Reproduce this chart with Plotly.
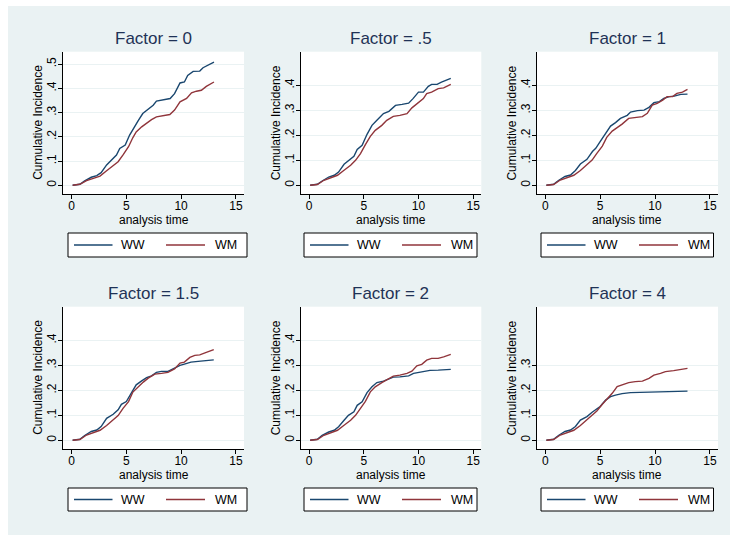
import plotly.graph_objects as go

# ---------------------------------------------------------------- data
factor_labels = ["0", ".5", "1", "1.5", "2", "4"]
series_names = ["WW", "WM"]

x_tickvals = [0, 5, 10, 15]
x_ticktext = ["0", "5", "10", "15"]
y_tickvals_f0 = [0, 0.1, 0.2, 0.3, 0.4, 0.5]
y_tickvals_mid = [0, 0.1, 0.2, 0.3, 0.4]
y_tickvals_f4 = [0, 0.1, 0.2, 0.3]
y_tick_names = {0: "0", 0.1: ".1", 0.2: ".2", 0.3: ".3", 0.4: ".4", 0.5: ".5"}

# Factor = 0
time_ww_f0 = [0.1, 0.76, 1.2, 1.8, 2.3, 2.7, 3.2, 3.65, 4.1, 4.4, 4.9, 5.3, 5.8, 6.1, 6.5,
              7.0, 7.45, 7.75, 8.4, 9.0, 9.4, 9.9, 10.3, 10.6, 11.1, 11.7, 12.0, 12.5, 13.0]
ci_ww_f0 = [0, .004, .018, .033, .040, .052, .084, .104, .125, .152, .166, .207, .248, .268, .296,
            .316, .330, .347, .353, .358, .378, .422, .426, .453, .470, .471, .485, .495, .508]
time_wm_f0 = [0.1, 0.76, 1.37, 2.0, 2.6, 3.2, 3.8, 4.25, 4.7, 5.2, 5.6, 5.9, 6.4, 6.85, 7.3,
              7.75, 8.35, 8.97, 9.4, 9.9, 10.5, 10.95, 11.4, 11.85, 12.3, 13.0]
ci_wm_f0 = [0, .004, .019, .029, .038, .060, .079, .097, .125, .159, .197, .220, .241, .258, .271,
            .282, .288, .292, .310, .344, .358, .381, .388, .392, .408, .426]

# Factor = .5
time_ww_f05 = [0.1, 0.76, 1.2, 1.8, 2.3, 2.7, 3.2, 3.6, 4.1, 4.4, 4.85, 5.3, 5.75, 6.2, 6.8,
               7.3, 7.9, 8.5, 9.1, 9.5, 10.0, 10.45, 10.9, 11.2, 11.7, 12.1, 12.6, 12.95]
ci_ww_f05 = [0, .004, .017, .033, .040, .053, .084, .100, .116, .143, .160, .204, .240, .260, .287,
             .296, .320, .324, .329, .347, .373, .373, .396, .404, .404, .413, .420, .428]
time_wm_f05 = [0.1, 0.76, 1.36, 2.0, 2.6, 3.2, 3.8, 4.25, 4.7, 5.15, 5.6, 6.05, 6.65, 7.1, 7.7,
               8.3, 8.95, 9.4, 10.0, 10.45, 10.75, 11.2, 11.8, 12.3, 12.95]
ci_wm_f05 = [0, .003, .020, .031, .040, .060, .080, .100, .127, .163, .196, .220, .240, .260, .276,
             .280, .287, .310, .333, .347, .367, .373, .387, .390, .404]

# Factor = 1
time_ww_f1 = [0.1, 0.76, 1.2, 1.8, 2.3, 2.75, 3.2, 3.8, 4.3, 4.6, 5.0, 5.5, 5.95, 6.4, 6.85,
              7.47, 7.77, 8.4, 9.0, 9.45, 9.9, 10.4, 10.8, 11.3, 11.75, 12.35, 12.96]
ci_ww_f1 = [0, .004, .019, .035, .041, .059, .085, .104, .135, .148, .175, .208, .237, .251, .268,
            .280, .293, .299, .301, .312, .331, .335, .348, .355, .357, .364, .365]
time_wm_f1 = [0.1, 0.76, 1.37, 2.0, 2.6, 3.2, 3.8, 4.27, 4.7, 5.2, 5.6, 6.1, 6.55, 7.0, 7.6,
              8.2, 8.85, 9.3, 9.75, 10.2, 10.7, 11.1, 11.6, 12.0, 12.5, 12.96]
ci_wm_f1 = [0, .003, .021, .031, .040, .059, .081, .101, .128, .157, .192, .217, .231, .245, .268,
            .271, .275, .288, .321, .328, .341, .355, .355, .368, .373, .384]

# Factor = 1.5
time_ww_f15 = [0.1, 0.76, 1.2, 1.8, 2.3, 2.7, 3.2, 3.8, 4.25, 4.55, 5.0, 5.5, 5.9, 6.4, 6.85,
               7.3, 7.75, 8.2, 8.8, 9.4, 9.9, 10.3, 10.9, 11.55, 12.3, 12.98]
ci_ww_f15 = [0, .004, .019, .035, .041, .055, .088, .104, .122, .144, .155, .195, .222, .238, .251,
             .258, .272, .276, .276, .289, .300, .305, .313, .316, .320, .322]
time_wm_f15 = [0.1, 0.76, 1.37, 2.0, 2.6, 3.2, 3.8, 4.25, 4.7, 5.2, 5.6, 6.1, 6.55, 7.0, 7.6,
               8.2, 8.8, 9.4, 9.9, 10.3, 10.8, 11.25, 11.7, 12.3, 12.98]
ci_wm_f15 = [0, .003, .021, .031, .040, .059, .082, .099, .128, .155, .193, .215, .233, .249, .265,
             .268, .272, .286, .309, .313, .332, .340, .342, .352, .363]

# Factor = 2
time_ww_f2 = [0.1, 0.76, 1.2, 1.8, 2.3, 2.7, 3.2, 3.6, 4.1, 4.4, 4.85, 5.3, 5.75, 6.2, 6.8,
              7.3, 7.7, 8.3, 9.1, 9.55, 10.0, 10.45, 11.05, 11.8, 12.4, 12.95]
ci_ww_f2 = [0, .004, .020, .033, .040, .054, .080, .100, .114, .140, .154, .191, .214, .231, .237,
            .245, .253, .254, .258, .268, .272, .274, .280, .281, .284, .284]
time_wm_f2 = [0.1, 0.76, 1.36, 2.0, 2.6, 3.2, 3.8, 4.25, 4.7, 5.15, 5.6, 6.05, 6.65, 7.1, 7.7,
              8.3, 8.95, 9.4, 9.85, 10.3, 10.75, 11.2, 11.8, 12.3, 12.95]
ci_wm_f2 = [0, .003, .020, .031, .040, .060, .080, .100, .127, .156, .194, .214, .231, .241, .257,
            .261, .268, .277, .298, .304, .321, .328, .328, .334, .344]

# Factor = 4
time_ww_f4 = [0.1, 0.76, 1.2, 1.8, 2.3, 2.75, 3.2, 3.8, 4.27, 4.7, 5.0, 5.5, 5.95, 6.4, 7.0,
              7.77, 8.7, 9.6, 10.5, 11.7, 12.96]
ci_ww_f4 = [0, .004, .019, .035, .041, .055, .081, .095, .112, .125, .135, .161, .175, .181, .187,
            .191, .192, .193, .196, .197, .197]
time_wm_f4 = [0.1, 0.76, 1.37, 2.0, 2.6, 3.2, 3.8, 4.27, 4.7, 5.2, 5.65, 6.1, 6.55, 7.0, 7.6,
              8.2, 8.85, 9.45, 9.9, 10.5, 10.95, 11.7, 12.35, 12.96]
ci_wm_f4 = [0, .003, .021, .031, .040, .059, .081, .099, .117, .144, .165, .188, .215, .221, .231,
            .235, .237, .248, .261, .268, .275, .279, .284, .288]

panel_series = [
    ((time_ww_f0, ci_ww_f0), (time_wm_f0, ci_wm_f0)),
    ((time_ww_f05, ci_ww_f05), (time_wm_f05, ci_wm_f05)),
    ((time_ww_f1, ci_ww_f1), (time_wm_f1, ci_wm_f1)),
    ((time_ww_f15, ci_ww_f15), (time_wm_f15, ci_wm_f15)),
    ((time_ww_f2, ci_ww_f2), (time_wm_f2, ci_wm_f2)),
    ((time_ww_f4, ci_ww_f4), (time_wm_f4, ci_wm_f4)),
]
panel_yticks = [y_tickvals_f0, y_tickvals_mid, y_tickvals_mid,
                y_tickvals_mid, y_tickvals_mid, y_tickvals_f4]

# ---------------------------------------------------------------- style
W, H = 730, 535
BG = "#EAF2F3"
NAVY = "#1A476F"
MAROON = "#90353B"
TITLE_COLOR = "#1F3256"
FONT = "Liberation Sans, Arial, Helvetica, sans-serif"
line_colors = [NAVY, MAROON]

# plot-area boxes in pixels (left, right) per column and (top, bottom) per row
col_px = [(63.0, 244.0), (300.5, 481.3), (536.7, 718.0)]
row_px = [(51.7, 194.0), (306.7, 449.0)]
legend_cols = [(68.0, 247.0), (304.0, 477.0), (541.0, 713.5)]
legend_rows = [(233.0, 257.0), (488.0, 511.0)]

x_range = [-0.78, 15.74]
y_range_f0 = [-0.036, 0.551]
y_range_other = [-0.035, 0.535]


def px_x(px):
    return px / W


def px_y(py):
    return 1 - py / H


fig = go.Figure()
shapes = []
annotations = []

# white strip along the top and left border of the graph region
shapes.append(dict(type="rect", xref="paper", yref="paper", x0=0, x1=px_x(8), y0=0, y1=1,
                   fillcolor="white", line_width=0, layer="below"))
shapes.append(dict(type="rect", xref="paper", yref="paper", x0=0, x1=1, y0=px_y(6), y1=1,
                   fillcolor="white", line_width=0, layer="below"))

for i, label in enumerate(factor_labels):
    r, c = divmod(i, 3)
    n = i + 1
    xa = "xaxis" if n == 1 else f"xaxis{n}"
    ya = "yaxis" if n == 1 else f"yaxis{n}"
    xref = "x" if n == 1 else f"x{n}"
    yref = "y" if n == 1 else f"y{n}"
    left, right = col_px[c]
    top, bottom = row_px[r]

    for k, (tt, cc) in enumerate(panel_series[i]):
        fig.add_trace(go.Scatter(
            x=tt, y=cc, mode="lines", name=series_names[k],
            line=dict(color=line_colors[k], width=1.4),
            xaxis=xref, yaxis=yref, showlegend=False, hoverinfo="skip"))

    yt = panel_yticks[i]
    fig.update_layout({
        xa: dict(domain=[px_x(left), px_x(right)], anchor=yref, range=x_range,
                 tickvals=x_tickvals, ticktext=x_ticktext, ticks="outside", ticklen=4,
                 tickcolor="black", tickwidth=1, showline=True, linecolor="black",
                 linewidth=1, showgrid=False, zeroline=False, ticklabelstandoff=-3,
                 tickfont=dict(family=FONT, size=12, color="black")),
        ya: dict(domain=[px_y(bottom), px_y(top)], anchor=xref,
                 range=y_range_f0 if i == 0 else y_range_other,
                 tickvals=yt, ticktext=[y_tick_names[v] for v in yt], tickangle=-90,
                 ticks="outside", ticklen=4, tickcolor="black", tickwidth=1,
                 showline=True, linecolor="black", linewidth=1, ticklabelstandoff=-3,
                 showgrid=True, gridcolor=BG, gridwidth=1, zeroline=False,
                 tickfont=dict(family=FONT, size=12, color="black")),
    })

    cx = (left + right) / 2
    cy = (top + bottom) / 2
    annotations.append(dict(text=f"Factor = {label}", xref="paper", yref="paper",
                            x=px_x(cx), y=px_y(top - 13), xanchor="center", yanchor="middle",
                            showarrow=False, font=dict(family=FONT, size=17, color=TITLE_COLOR)))
    annotations.append(dict(text="analysis time", xref="paper", yref="paper",
                            x=px_x(cx), y=px_y(bottom + 25.5), xanchor="center", yanchor="middle",
                            showarrow=False, font=dict(family=FONT, size=12, color="black")))
    annotations.append(dict(text="Cumulative Incidence", xref="paper", yref="paper",
                            x=px_x(left - 25), y=px_y(cy), xanchor="center", yanchor="middle",
                            textangle=-90, showarrow=False,
                            font=dict(family=FONT, size=12, color="black")))

    # legend box
    lx0, lx1 = legend_cols[c]
    ly0, ly1 = legend_rows[r]
    lyc = (ly0 + ly1) / 2
    shapes.append(dict(type="rect", xref="paper", yref="paper",
                       x0=px_x(lx0), x1=px_x(lx1), y0=px_y(ly1), y1=px_y(ly0),
                       fillcolor="white", line=dict(color="black", width=1)))
    key_offsets = [(6, 44.5, 50.5), (98, 137, 145)]
    for k, (a, b, t) in enumerate(key_offsets):
        shapes.append(dict(type="line", xref="paper", yref="paper",
                           x0=px_x(lx0 + a), x1=px_x(lx0 + b), y0=px_y(lyc), y1=px_y(lyc),
                           line=dict(color=line_colors[k], width=1.4)))
        annotations.append(dict(text=series_names[k], xref="paper", yref="paper",
                                x=px_x(lx0 + t), y=px_y(lyc), xanchor="left", yanchor="middle",
                                showarrow=False, font=dict(family=FONT, size=12.5, color="black")))

fig.update_layout(
    width=W, height=H, autosize=False,
    margin=dict(l=0, r=0, t=0, b=0, pad=0),
    paper_bgcolor=BG, plot_bgcolor="white",
    shapes=shapes, annotations=annotations,
    font=dict(family=FONT),
    showlegend=False,
)

fig.write_html("out.html")
